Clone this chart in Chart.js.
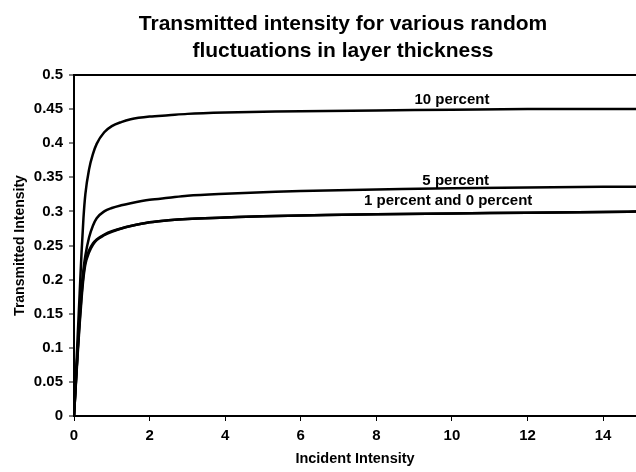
<!DOCTYPE html>
<html>
<head>
<meta charset="utf-8">
<title>Transmitted intensity</title>
<script src="https://cdn.jsdelivr.net/npm/chart.js@4/dist/chart.umd.min.js"></script>
<style>
  body { margin: 0; background: #fff; }
  canvas { display: block; }
</style>
</head>
<body>
<canvas id="myChart" width="636" height="472"></canvas>
<script>
// 입사 강도 (x축)
const incident = [0, 0.05, 0.1, 0.15, 0.2, 0.25, 0.3, 0.4, 0.5, 0.6, 0.8, 1, 1.25, 1.5, 2, 2.5, 3, 4, 5, 6, 8, 10, 12, 14, 15];

// 투과 강도 - 두께 변동별
const tenPercent = [0, 0.06, 0.12, 0.18, 0.24, 0.29, 0.325, 0.362, 0.384, 0.399, 0.416, 0.425, 0.431, 0.435, 0.439, 0.441, 0.443, 0.445, 0.446, 0.447, 0.448, 0.449, 0.45, 0.45, 0.45];
const fivePercent = [0, 0.05, 0.1, 0.148, 0.188, 0.215, 0.235, 0.262, 0.279, 0.29, 0.3, 0.305, 0.309, 0.312, 0.317, 0.32, 0.323, 0.326, 0.328, 0.33, 0.332, 0.334, 0.335, 0.336, 0.336];
const onePercent = [0, 0.05, 0.098, 0.14, 0.178, 0.207, 0.226, 0.243, 0.253, 0.259, 0.266, 0.271, 0.275, 0.2785, 0.284, 0.287, 0.289, 0.291, 0.293, 0.294, 0.296, 0.297, 0.298, 0.299, 0.3];
const zeroPercent = [0, 0.047, 0.093, 0.135, 0.172, 0.202, 0.222, 0.24, 0.251, 0.258, 0.265, 0.27, 0.275, 0.2785, 0.284, 0.287, 0.289, 0.291, 0.293, 0.294, 0.296, 0.297, 0.298, 0.299, 0.3];

// x축 눈금
const xTicks = [0, 2, 4, 6, 8, 10, 12, 14];

// 곡선 옆 라벨 (데이터 좌표)
const curveLabels = ["10 percent", "5 percent", "1 percent and 0 percent"];
const curveLabelX = [10.0, 10.1, 9.9];
const curveLabelY = [0.458, 0.339, 0.309];

const titleLines = ["Transmitted intensity for various random", "fluctuations in layer thickness"];

const FONT = "'Liberation Sans', Arial, sans-serif";

function toPoints(ys) {
  return incident.map((x, i) => ({ x: x, y: ys[i] }));
}

function lineSet(label, ys) {
  return {
    label: label,
    data: toPoints(ys),
    borderColor: "#000",
    borderWidth: 2.5,
    pointRadius: 0,
    fill: false,
    cubicInterpolationMode: "monotone",
  };
}

// 제목 + 곡선 라벨 그리기
const textPlugin = {
  id: "textPlugin",
  afterDraw(chart) {
    const ctx = chart.ctx;
    const xs = chart.scales.x;
    const ys = chart.scales.y;
    ctx.save();
    ctx.fillStyle = "#000";
    ctx.textAlign = "center";
    ctx.textBaseline = "alphabetic";

    ctx.font = "bold 21px " + FONT;
    ctx.fillText(titleLines[0], 343, 30);
    ctx.fillText(titleLines[1], 343, 57);

    ctx.font = "bold 15px " + FONT;
    curveLabels.forEach((t, i) => {
      ctx.fillText(t, xs.getPixelForValue(curveLabelX[i]), ys.getPixelForValue(curveLabelY[i]));
    });
    ctx.restore();
  },
};

const ctx = document.getElementById("myChart").getContext("2d");
new Chart(ctx, {
  type: "line",
  data: {
    datasets: [
      lineSet("10 percent", tenPercent),
      lineSet("5 percent", fivePercent),
      lineSet("1 percent", onePercent),
      lineSet("0 percent", zeroPercent),
    ],
  },
  options: {
    responsive: false,
    animation: false,
    layout: { padding: { top: 75, left: 0, right: 0, bottom: 0 } },
    plugins: {
      legend: { display: false },
      tooltip: { enabled: false },
      title: { display: false },
    },
    scales: {
      x: {
        type: "linear",
        min: 0,
        max: 14.87,
        afterFit: (s) => { s.height = 56; },
        afterBuildTicks: (s) => { s.ticks = xTicks.map((v) => ({ value: v })); },
        ticks: {
          color: "#000",
          font: { family: FONT, size: 15, weight: "bold" },
          padding: 6,
          maxRotation: 0,
          autoSkip: false,
          callback: (v) => String(v),
        },
        grid: { display: true, drawOnChartArea: false, tickLength: 5, tickColor: "#000" },
        border: { color: "#000", width: 2 },
        title: {
          display: true,
          text: "Incident Intensity",
          color: "#000",
          font: { family: FONT, size: 14.5, weight: "bold" },
          padding: { top: 0, bottom: 4 },
        },
      },
      y: {
        min: 0,
        max: 0.5,
        afterFit: (s) => { s.width = 74; },
        ticks: {
          stepSize: 0.05,
          color: "#000",
          font: { family: FONT, size: 15, weight: "bold" },
          padding: 6,
          callback: (v) => String(Number(v.toFixed(2))),
        },
        grid: {
          color: (c) => (c.tick && Math.abs(c.tick.value - 0.5) < 1e-9 ? "#000" : "rgba(0,0,0,0)"),
          lineWidth: 2,
          tickLength: 5,
          tickColor: "#000",
          tickWidth: 1,
        },
        border: { color: "#000", width: 2 },
        title: {
          display: true,
          text: "Transmitted Intensity",
          color: "#000",
          font: { family: FONT, size: 14, weight: "bold" },
          padding: { top: 12, bottom: 0 },
        },
      },
    },
  },
  plugins: [textPlugin],
});
</script>
</body>
</html>
